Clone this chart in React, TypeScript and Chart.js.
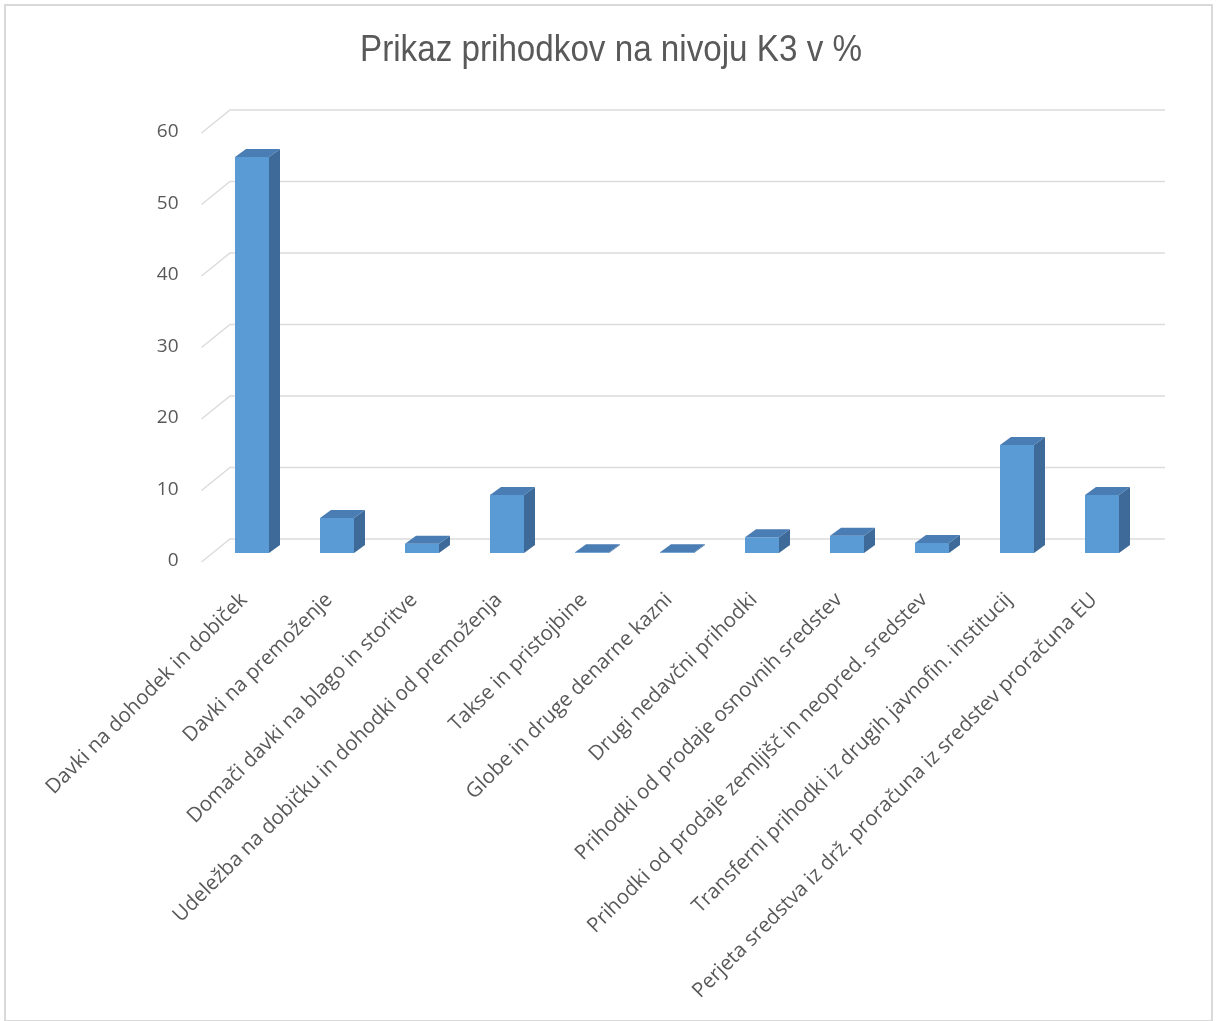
import React, { useEffect, useRef } from "react";
import { Chart, registerables } from "chart.js";

Chart.register(...registerables);

const TITLE = "Prikaz prihodkov na nivoju K3 v %";

const categories = [
  "Davki na dohodek in dobiček",
  "Davki na premoženje",
  "Domači davki na blago in storitve",
  "Udeležba na dobičku in dohodki od premoženja",
  "Takse in pristojbine",
  "Globe in druge denarne kazni",
  "Drugi nedavčni prihodki",
  "Prihodki od prodaje osnovnih sredstev",
  "Prihodki od prodaje zemljišč in neopred. sredstev",
  "Transferni prihodki iz drugih javnofin. institucij",
  "Perjeta sredstva iz drž. proračuna iz sredstev proračuna EU",
];

const values = [55.4, 4.9, 1.3, 8.1, 0.1, 0.1, 2.2, 2.4, 1.4, 15.1, 8.1];

const yTicks = [0, 10, 20, 30, 40, 50, 60];

const FRONT = "#5B9BD5";
const TOP = "#4A7DB4";
const SIDE = "#3D6A98";
const GRID = "#DCDCDC";
const TEXT = "#595959";

const W = 1218;
const H = 1021;

const frame3d = {
  id: "frame3d",
  beforeDatasetsDraw(chart: any) {
    const { ctx, chartArea } = chart;
    const y = chart.scales.y;
    ctx.save();
    ctx.strokeStyle = GRID;
    ctx.lineWidth = 1.5;
    for (const v of yTicks) {
      const py = y.getPixelForValue(v);
      ctx.beginPath();
      ctx.moveTo(chartArea.left - 8, py + 9);
      ctx.lineTo(chartArea.left + 20.5, py - 14);
      ctx.lineTo(chartArea.right + 20.5, py - 14);
      ctx.stroke();
    }
    ctx.restore();
  },
  afterDatasetsDraw(chart: any) {
    const { ctx } = chart;
    const meta = chart.getDatasetMeta(0);
    const dx = 11;
    const dy = -8;
    ctx.save();
    meta.data.forEach((bar: any) => {
      const p = bar.getProps(["x", "y", "base", "width"], true);
      const l = p.x - p.width / 2;
      const r = p.x + p.width / 2;
      const t = p.y;
      const b = p.base;
      ctx.fillStyle = SIDE;
      ctx.beginPath();
      ctx.moveTo(r, t);
      ctx.lineTo(r + dx, t + dy);
      ctx.lineTo(r + dx, b + dy);
      ctx.lineTo(r, b);
      ctx.closePath();
      ctx.fill();
      ctx.fillStyle = TOP;
      ctx.beginPath();
      ctx.moveTo(l, t);
      ctx.lineTo(l + dx, t + dy);
      ctx.lineTo(r + dx, t + dy);
      ctx.lineTo(r, t);
      ctx.closePath();
      ctx.fill();
    });
    ctx.restore();
  },
  afterDraw(chart: any) {
    const { ctx } = chart;
    ctx.save();
    ctx.strokeStyle = "#D9D9D9";
    ctx.lineWidth = 2;
    ctx.strokeRect(5, 5, W - 11, H - 5);
    ctx.fillStyle = TEXT;
    ctx.font = "36px 'Liberation Sans', Arial, sans-serif";
    ctx.textAlign = "center";
    ctx.textBaseline = "alphabetic";
    const m = ctx.measureText(TITLE).width;
    const sx = 502 / m;
    ctx.translate(611, 61);
    ctx.scale(sx, 1);
    ctx.fillText(TITLE, 0, 0);
    ctx.restore();
  },
};

export default function App() {
  const ref = useRef<HTMLCanvasElement | null>(null);
  useEffect(() => {
    document.body.style.margin = "0";
    let chart: any = null;
    let cancelled = false;
    const fonts = ["20.5px 'Open Sans'", "19px 'Open Sans'", "36px 'Liberation Sans'"];
    Promise.all(fonts.map((f) => document.fonts.load(f).catch(() => null)))
      .catch(() => null)
      .then(() => {
        if (cancelled || !ref.current) return;
        chart = new Chart(ref.current, {
          type: "bar",
          data: {
            labels: categories,
            datasets: [
              {
                data: values,
                backgroundColor: FRONT,
                borderWidth: 0,
                barPercentage: 0.4,
                categoryPercentage: 1,
              },
            ],
          },
          options: {
            animation: false,
            responsive: false,
            layout: { padding: { left: 0, right: 73.5, top: 124, bottom: 0 } },
            plugins: { legend: { display: false }, title: { display: false }, tooltip: { enabled: false } },
            scales: {
              x: {
                grid: { display: false, drawTicks: false },
                border: { display: false },
                afterFit: (s: any) => {
                  s.height = 468;
                },
                ticks: {
                  autoSkip: false,
                  maxRotation: 45,
                  minRotation: 45,
                  padding: 35,
                  labelOffset: -8,
                  color: TEXT,
                  font: { family: "'Open Sans', sans-serif", size: 20.5 },
                },
              },
              y: {
                min: 0,
                max: 60,
                grid: { display: false, drawTicks: false },
                border: { display: false },
                afterFit: (s: any) => {
                  s.width = 209.5;
                },
                ticks: {
                  stepSize: 10,
                  padding: 31,
                  labelOffset: 8,
                  color: TEXT,
                  font: { family: "'Open Sans', sans-serif", size: 19 },
                },
              },
            },
          },
          plugins: [frame3d],
        });
      });
    return () => {
      cancelled = true;
      if (chart) chart.destroy();
    };
  }, []);
  return (
    <div style={{ position: "absolute", left: 0, top: 0, width: W, height: H, background: "#fff" }}>
      <canvas ref={ref} width={W} height={H} style={{ width: W, height: H, display: "block" }} />
    </div>
  );
}
